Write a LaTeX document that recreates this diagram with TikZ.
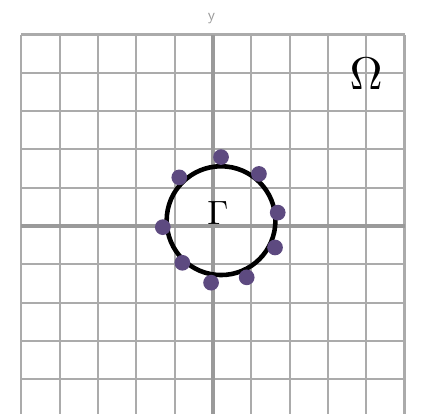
\documentclass[tikz,border=0pt]{standalone}
\usepackage{tikz}
\definecolor{gridgray}{HTML}{ABABAB}
\definecolor{axisgray}{HTML}{9A9A9A}
\definecolor{dotpurple}{HTML}{5D4A80}

\begin{document}
\begin{tikzpicture}[
      gridline/.style={draw=gridgray, line width=1.5pt},
      axisline/.style={draw=axisgray, line width=2.6pt},
      axislabel/.style={text=axisgray, font=\sffamily\large, inner sep=0pt},
      curve/.style={draw=black, line width=3.4pt},
      pt/.style={circle, fill=dotpurple, inner sep=0pt, minimum size=0.41cm}
  ]

    % --- Frame of the picture ---
    \useasboundingbox (-5.561, -4.883) rectangle (5.457, 5.901);
    \clip (-5.561, -4.883) rectangle (5.457, 5.901);

    % --- Grid ---
    \foreach \x in {-5,...,5} {
      \draw[gridline] (\x, -5) -- (\x, 5);
    }
    \foreach \y in {-5,...,5} {
      \draw[gridline] (-5, \y) -- (5, \y);
    }

    % --- Axes ---
    \draw[axisline] (-5, 0) -- (5, 0);
    \draw[axisline] (0, -5) -- (0, 5);
    \node[axislabel] (ylab) at (-0.04, 5.42) {y};
    \node[axislabel] (xlab) at (5.62, -0.03) {x};

    % --- Domain label ---
    \node[inner sep=0pt, scale=3.4] (omega) at (4.0, 3.97) {$\Omega$};

    % --- Boundary curve ---
    \draw[curve] (0.21, 0.14) circle (1.42);
    \node[inner sep=0pt, scale=2.5] (gamma) at (0.13, 0.33) {$\Gamma$};

    % --- Sample points ---
    \node[pt] (p1) at (0.21, 1.80) {};
    \node[pt] (p2) at (1.20, 1.36) {};
    \node[pt] (p3) at (1.69, 0.35) {};
    \node[pt] (p4) at (1.62, -0.56) {};
    \node[pt] (p5) at (0.88, -1.34) {};
    \node[pt] (p6) at (-0.05, -1.48) {};
    \node[pt] (p7) at (-0.80, -0.96) {};
    \node[pt] (p8) at (-1.31, -0.03) {};
    \node[pt] (p9) at (-0.88, 1.27) {};

  \end{tikzpicture}
\end{document}
